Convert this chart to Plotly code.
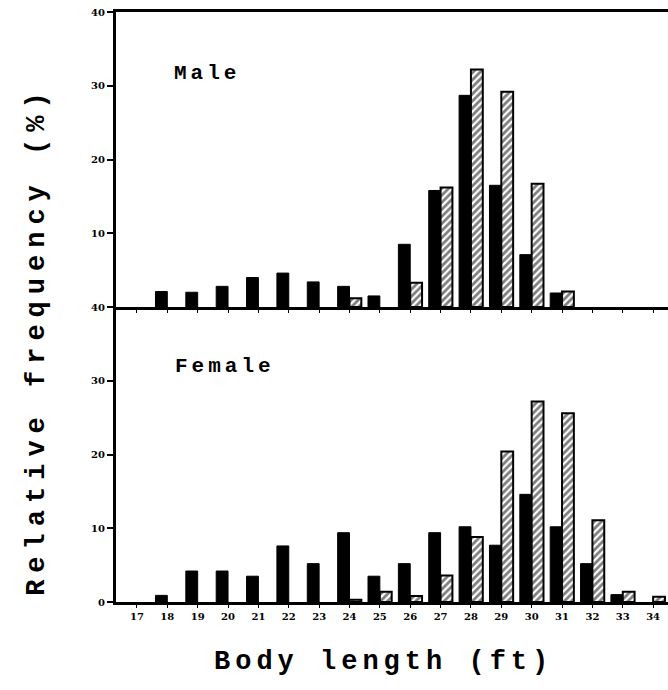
import plotly.graph_objects as go

lengths = list(range(17, 35))
tick_labels = [str(v) for v in lengths]

male_solid = [0, 2.1, 2.0, 2.8, 4.0, 4.6, 3.4, 2.8, 1.5, 8.5, 15.8, 28.7, 16.5, 7.1, 1.9, 0, 0, 0]
male_hatched = [0, 0, 0, 0, 0, 0, 0, 1.2, 0, 3.3, 16.2, 32.2, 29.2, 16.7, 2.1, 0, 0, 0]
female_solid = [0, 0.9, 4.2, 4.2, 3.5, 7.6, 5.2, 9.4, 3.5, 5.2, 9.4, 10.2, 7.7, 14.6, 10.2, 5.2, 1.0, 0]
female_hatched = [0, 0, 0, 0, 0, 0, 0, 0.3, 1.4, 0.8, 3.6, 8.8, 20.4, 27.2, 25.6, 11.1, 1.4, 0.7]

MONO = "Liberation Mono, Courier New, monospace"
TICKF = dict(family="DejaVu Serif, serif", size=10, color="black", weight="bold")

def nz(y):
    return [v if v > 0 else None for v in y]

def solid(y, xa, ya):
    return go.Bar(x=lengths, y=nz(y), xaxis=xa, yaxis=ya,
                  marker=dict(color="black", line=dict(color="black", width=1)),
                  showlegend=False, hoverinfo="x+y")

def hatched(y, xa, ya):
    return go.Bar(x=lengths, y=nz(y), xaxis=xa, yaxis=ya,
                  marker=dict(color="white", line=dict(color="black", width=2),
                              pattern=dict(shape="/", fgcolor="black", bgcolor="white", size=5, solidity=0.55)),
                  showlegend=False, hoverinfo="x+y")

fig = go.Figure([
    solid(male_solid, "x", "y"), hatched(male_hatched, "x", "y"),
    solid(female_solid, "x2", "y2"), hatched(female_hatched, "x2", "y2"),
])

xr = [16.31, 34.49]
common_x = dict(range=xr, showline=True, linewidth=3, linecolor="black", showgrid=False, zeroline=False,
                ticks="outside", ticklen=3, tickwidth=1, tickcolor="black", tickvals=lengths)
common_y = dict(range=[0, 40], showline=True, linewidth=3, linecolor="black", showgrid=False, zeroline=False,
                ticks="outside", ticklen=6, tickwidth=1.5, tickcolor="black", tickfont=TICKF)

TXT = dict(family=MONO, color="black", weight="bold")

fig.update_layout(
    width=668, height=690,
    margin=dict(l=116, r=0, t=12, b=88),
    paper_bgcolor="white", plot_bgcolor="white",
    barmode="group", bargap=0.22, bargroupgap=0,
    xaxis=dict(common_x, anchor="y", domain=[0, 1], mirror=True, showticklabels=False),
    yaxis=dict(common_y, anchor="x", domain=[0.5, 1], tickvals=[10, 20, 30, 40]),
    xaxis2=dict(common_x, anchor="y2", domain=[0, 1], ticktext=tick_labels, tickfont=TICKF),
    yaxis2=dict(common_y, anchor="x2", domain=[0, 0.5], tickvals=[0, 10, 20, 30, 40]),
    annotations=[
        dict(text='<span style="letter-spacing:4px">Male</span>', xref="paper", yref="paper", x=0.101, y=0.895,
             xanchor="left", yanchor="middle", showarrow=False, font=dict(TXT, size=21)),
        dict(text='<span style="letter-spacing:4px">Female</span>', xref="paper", yref="paper", x=0.103, y=0.4,
             xanchor="left", yanchor="middle", showarrow=False, font=dict(TXT, size=21)),
        dict(text='<span style="letter-spacing:7px">Relative frequency (%)</span>', xref="paper", yref="paper",
             x=-0.142, y=0.442, xanchor="center", yanchor="middle", textangle=-90, showarrow=False,
             font=dict(TXT, size=27)),
        dict(text='<span style="letter-spacing:5px">Body length (ft)</span>', xref="paper", yref="paper",
             x=0.484, y=-0.102, xanchor="center", yanchor="middle", showarrow=False,
             font=dict(TXT, size=27)),
    ],
)

fig.write_html("out.html")
